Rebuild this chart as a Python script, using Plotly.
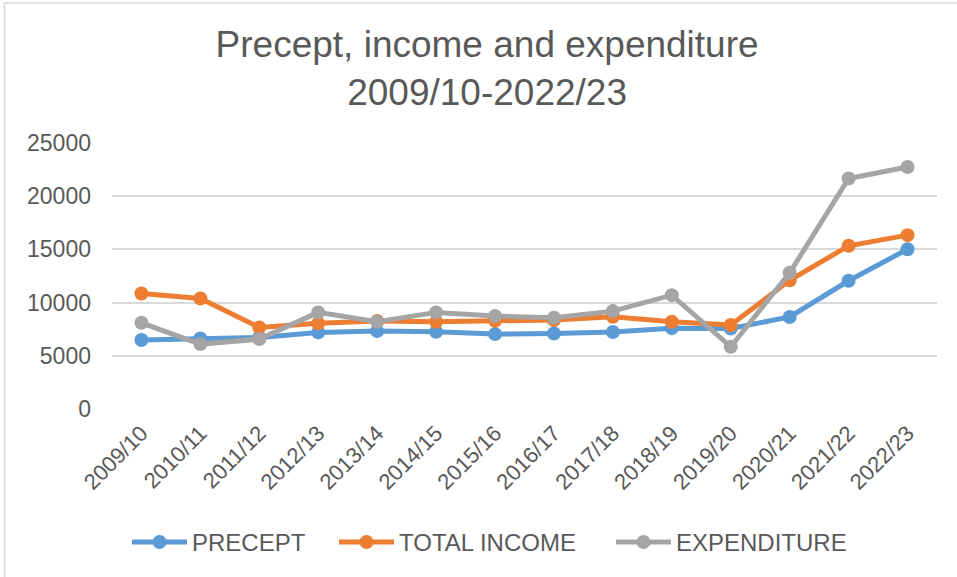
import plotly.graph_objects as go

years = ["2009/10", "2010/11", "2011/12", "2012/13", "2013/14", "2014/15", "2015/16",
         "2016/17", "2017/18", "2018/19", "2019/20", "2020/21", "2021/22", "2022/23"]
precept = [6480, 6620, 6720, 7200, 7320, 7260, 7040, 7100, 7230, 7600, 7570, 8650, 12050, 15020]
total_income = [10850, 10390, 7670, 8050, 8280, 8200, 8290, 8360, 8670, 8200, 7890, 12100, 15340, 16340]
expenditure = [8100, 6100, 6570, 9080, 8200, 9080, 8730, 8570, 9200, 10700, 5850, 12800, 21660, 22750]

series_names = ["PRECEPT", "TOTAL INCOME", "EXPENDITURE"]
colors = ["#5B9BD5", "#ED7D31", "#A5A5A5"]
legend_ids = ["legend", "legend2", "legend3"]
legend_x = [127, 334, 611]

TEXT = "#595959"
FONT = "Liberation Sans, Arial, sans-serif"

fig = go.Figure()
for name, vals, col, lg in zip(series_names, [precept, total_income, expenditure], colors, legend_ids):
    fig.add_trace(go.Scatter(
        x=years, y=vals, name=name, mode="lines+markers",
        line=dict(color=col, width=5),
        marker=dict(color=col, size=14),
        legend=lg,
    ))

legend_common = dict(
    orientation="h", xref="container", xanchor="left",
    y=0.06, yref="container", yanchor="middle",
    font=dict(size=24, color=TEXT, family=FONT),
    itemwidth=55, bgcolor="rgba(0,0,0,0)",
)

fig.update_layout(
    width=957, height=577,
    margin=dict(l=112, r=20, t=143, b=168),
    paper_bgcolor="white", plot_bgcolor="white",
    font=dict(family=FONT, color=TEXT),
    title=dict(
        text="Precept, income and expenditure<br>2009/10-2022/23",
        font=dict(size=37, color=TEXT, family=FONT),
        x=0.509, xref="container", xanchor="center",
        y=0.902, yref="container", yanchor="top",
    ),
    showlegend=True,
    legend=dict(x=legend_x[0] / 957, **legend_common),
    legend2=dict(x=legend_x[1] / 957, **legend_common),
    legend3=dict(x=legend_x[2] / 957, **legend_common),
    xaxis=dict(
        type="category", range=[-0.5, 13.5], tickangle=-45,
        showgrid=False, showline=False, zeroline=False, ticks="",
        ticklabelstandoff=6,
        tickfont=dict(size=22, color=TEXT, family=FONT),
    ),
    yaxis=dict(
        range=[0, 25000], dtick=5000, tickformat="d",
        showgrid=True, gridcolor="#D9D9D9", gridwidth=1.5,
        zeroline=False, showline=False, ticks="", ticklabelstandoff=20,
        tickfont=dict(size=23, color=TEXT, family=FONT),
    ),
    shapes=[dict(type="rect", xref="paper", yref="paper",
                 x0=-0.1303, x1=2.0, y0=-2.0, y1=1.526,
                 line=dict(color="#D9D9D9", width=1.5), fillcolor="rgba(0,0,0,0)",
                 layer="below")],
)

fig.write_html("out.html", config={"displayModeBar": False},
               post_script="document.body.style.margin='0';document.body.style.overflow='hidden';")
